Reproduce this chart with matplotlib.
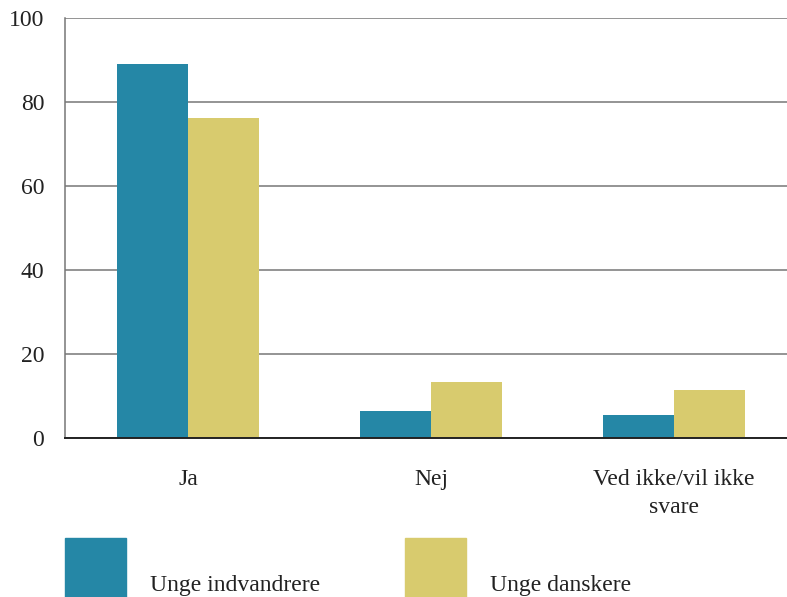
import numpy as np
import matplotlib.pyplot as plt
from matplotlib.patches import Rectangle

categories = ['Ja', 'Nej', 'Ved ikke/vil ikke\nsvare']
indvandrere = [89.0, 6.4, 5.5]
danskere = [76.3, 13.4, 11.5]
series_names = ['Unge indvandrere', 'Unge danskere']

blue = '#2587a6'
yellow = '#d8cb6e'

plt.rcParams['font.family'] = ['Liberation Serif', 'DejaVu Serif']

fig = plt.figure(figsize=(7.87, 5.97), dpi=100)
ax = fig.add_axes([65 / 787, 159 / 597, 722 / 787, 420 / 597])

x = np.arange(len(categories))
w = 0.292
ax.bar(x - w / 2, indvandrere, w, color=blue, zorder=3)
ax.bar(x + w / 2, danskere, w, color=yellow, zorder=3)

ax.set_xlim(-0.506, 2.465)
ax.set_ylim(0, 100)
ax.set_yticks([0, 20, 40, 60, 80, 100])
ax.yaxis.grid(True, color='#777777', linewidth=1.1, zorder=0)
ax.set_xticks(x)
ax.set_xticklabels(categories, fontsize=17, color='#222222', linespacing=1.45)
ax.tick_params(axis='y', labelsize=17, labelcolor='#222222', length=0, pad=15)
ax.tick_params(axis='x', length=0, pad=22)

for s in ['top', 'right']:
    ax.spines[s].set_visible(False)
ax.spines['left'].set_color('#777777')
ax.spines['left'].set_linewidth(1.1)
ax.spines['bottom'].set_color('#222222')
ax.spines['bottom'].set_linewidth(1.4)
ax.spines['bottom'].set_zorder(4)

# legend drawn by hand below the plot
for i, (name, col) in enumerate(zip(series_names, [blue, yellow])):
    x0 = 65 + i * 340
    fig.patches.append(Rectangle((x0 / 787, 0), 61 / 787, 59 / 597,
                                 transform=fig.transFigure, color=col))
    fig.text((x0 + 85) / 787, 12 / 597, name, fontsize=17, color='#222222',
             va='center', ha='left')

fig.savefig('out.png', dpi=100)
